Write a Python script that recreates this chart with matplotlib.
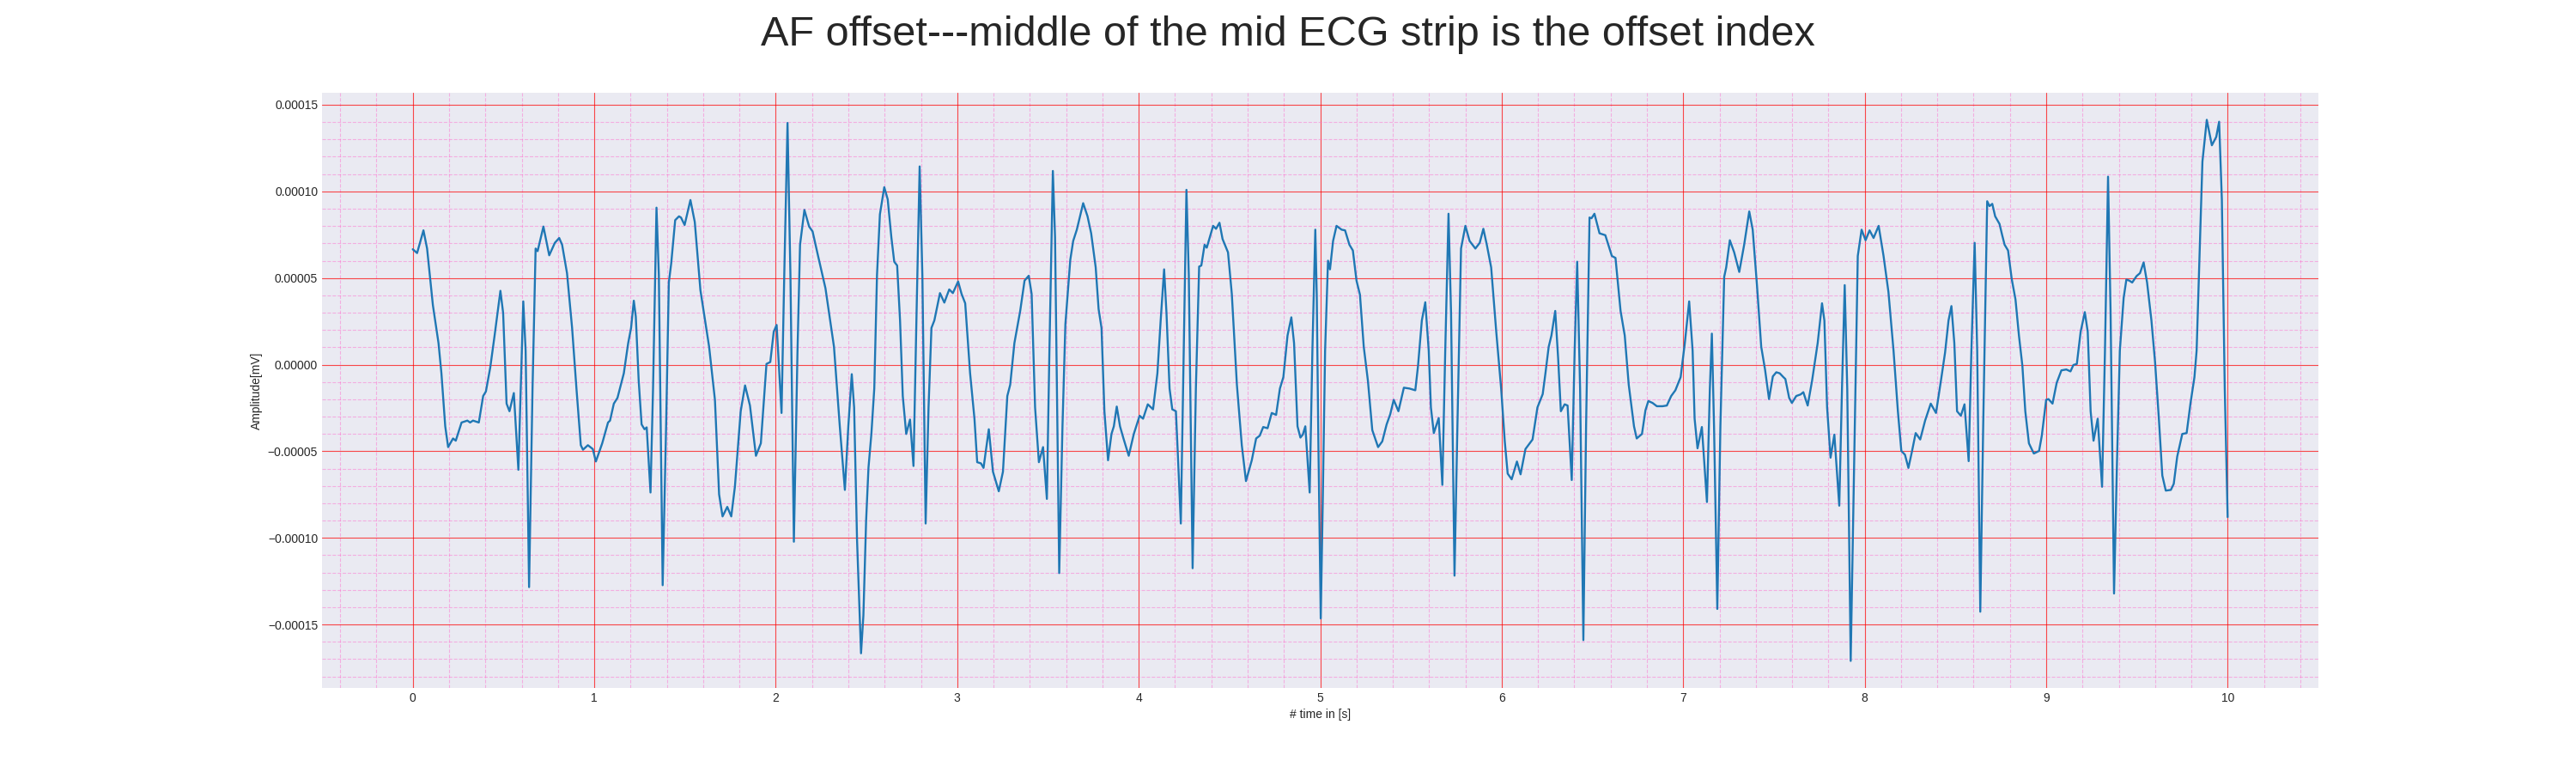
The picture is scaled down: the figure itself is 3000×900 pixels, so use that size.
import matplotlib
matplotlib.use("Agg")
import matplotlib.pyplot as plt
from matplotlib.ticker import MultipleLocator
import numpy as np

# ------------------------- DADOS -------------------------
# tempo (s) e amplitude (em unidades de 1e-5 mV)
time_s = [
    0.000, 0.024, 0.059, 0.079, 0.111, 0.142, 0.158, 0.179, 0.195, 0.222,
    0.237, 0.269, 0.301, 0.316, 0.332, 0.364, 0.388, 0.403, 0.427, 0.451,
    0.483, 0.498, 0.517, 0.533, 0.557, 0.582, 0.609, 0.622, 0.641, 0.660,
    0.677, 0.688, 0.720, 0.752, 0.783, 0.807, 0.823, 0.850, 0.878, 0.902,
    0.926, 0.938, 0.965, 0.992, 1.009, 1.044, 1.076, 1.087, 1.108, 1.128,
    1.163, 1.187, 1.203, 1.218, 1.229, 1.245, 1.261, 1.277, 1.289, 1.310,
    1.324, 1.343, 1.356, 1.377, 1.396, 1.411, 1.424, 1.446, 1.467, 1.478,
    1.498, 1.530, 1.554, 1.585, 1.633, 1.665, 1.688, 1.707, 1.733, 1.755,
    1.775, 1.807, 1.831, 1.858, 1.891, 1.918, 1.949, 1.970, 1.989, 2.005,
    2.032, 2.047, 2.065, 2.081, 2.100, 2.120, 2.134, 2.158, 2.184, 2.203,
    2.231, 2.274, 2.321, 2.353, 2.381, 2.400, 2.419, 2.432, 2.448, 2.470,
    2.483, 2.498, 2.511, 2.527, 2.543, 2.558, 2.574, 2.598, 2.617, 2.637,
    2.653, 2.669, 2.685, 2.700, 2.719, 2.740, 2.759, 2.776, 2.793, 2.808,
    2.826, 2.842, 2.858, 2.874, 2.905, 2.929, 2.956, 2.976, 3.005, 3.024,
    3.044, 3.071, 3.095, 3.110, 3.131, 3.145, 3.174, 3.197, 3.229, 3.252,
    3.276, 3.292, 3.315, 3.347, 3.371, 3.394, 3.410, 3.429, 3.450, 3.473,
    3.494, 3.508, 3.527, 3.539, 3.562, 3.580, 3.596, 3.623, 3.639, 3.659,
    3.694, 3.718, 3.738, 3.763, 3.779, 3.795, 3.811, 3.831, 3.850, 3.863,
    3.879, 3.897, 3.916, 3.945, 3.973, 4.005, 4.024, 4.050, 4.079, 4.103,
    4.121, 4.140, 4.153, 4.170, 4.185, 4.205, 4.218, 4.232, 4.248, 4.263,
    4.276, 4.297, 4.315, 4.333, 4.345, 4.363, 4.375, 4.410, 4.426, 4.445,
    4.462, 4.492, 4.513, 4.541, 4.568, 4.591, 4.623, 4.647, 4.667, 4.686,
    4.710, 4.733, 4.757, 4.778, 4.797, 4.820, 4.841, 4.856, 4.875, 4.891,
    4.904, 4.918, 4.942, 4.957, 4.973, 4.981, 4.990, 5.003, 5.014, 5.027,
    5.043, 5.054, 5.071, 5.090, 5.118, 5.137, 5.161, 5.180, 5.200, 5.219,
    5.240, 5.263, 5.287, 5.319, 5.342, 5.366, 5.386, 5.405, 5.431, 5.461,
    5.492, 5.524, 5.539, 5.560, 5.579, 5.598, 5.610, 5.626, 5.653, 5.673,
    5.689, 5.707, 5.721, 5.740, 5.756, 5.776, 5.800, 5.823, 5.855, 5.879,
    5.899, 5.918, 5.942, 5.970, 5.997, 6.017, 6.033, 6.055, 6.084, 6.104,
    6.131, 6.170, 6.197, 6.226, 6.241, 6.259, 6.274, 6.295, 6.311, 6.326,
    6.347, 6.363, 6.386, 6.402, 6.416, 6.432, 6.450, 6.465, 6.484, 6.495,
    6.511, 6.539, 6.571, 6.607, 6.627, 6.655, 6.678, 6.700, 6.729, 6.744,
    6.773, 6.792, 6.808, 6.831, 6.855, 6.886, 6.910, 6.934, 6.957, 6.986,
    7.009, 7.033, 7.052, 7.063, 7.079, 7.103, 7.131, 7.147, 7.158, 7.170,
    7.188, 7.205, 7.226, 7.237, 7.257, 7.281, 7.309, 7.336, 7.364, 7.383,
    7.407, 7.430, 7.451, 7.473, 7.494, 7.513, 7.532, 7.552, 7.563, 7.584,
    7.599, 7.623, 7.647, 7.662, 7.686, 7.710, 7.741, 7.765, 7.778, 7.793,
    7.812, 7.833, 7.860, 7.875, 7.890, 7.904, 7.923, 7.942, 7.962, 7.983,
    8.005, 8.027, 8.049, 8.077, 8.104, 8.131, 8.159, 8.183, 8.202, 8.222,
    8.241, 8.259, 8.281, 8.306, 8.333, 8.364, 8.393, 8.420, 8.443, 8.462,
    8.478, 8.494, 8.509, 8.530, 8.550, 8.573, 8.588, 8.606, 8.620, 8.637,
    8.653, 8.675, 8.688, 8.703, 8.719, 8.743, 8.757, 8.771, 8.790, 8.810,
    8.831, 8.850, 8.869, 8.885, 8.905, 8.932, 8.961, 8.976, 9.000, 9.013,
    9.035, 9.058, 9.084, 9.111, 9.134, 9.150, 9.169, 9.190, 9.213, 9.229,
    9.245, 9.261, 9.284, 9.308, 9.324, 9.341, 9.355, 9.374, 9.390, 9.406,
    9.427, 9.442, 9.458, 9.474, 9.498, 9.517, 9.537, 9.556, 9.580, 9.600,
    9.621, 9.640, 9.659, 9.687, 9.703, 9.722, 9.750, 9.774, 9.795, 9.817,
    9.829, 9.845, 9.861, 9.885, 9.913, 9.937, 9.953, 9.968, 9.984, 10.000,
]

amp_1e5 = [
    6.66, 6.44, 7.75, 6.70, 3.43, 1.24, -0.50, -3.56, -4.76, -4.26,
    -4.39, -3.34, -3.23, -3.34, -3.23, -3.34, -1.81, -1.55, -0.17, 1.68,
    4.26, 2.99, -2.25, -2.69, -1.64, -6.07, 3.65, 0.81, -12.84, -1.38,
    6.70, 6.55, 7.97, 6.31, 7.03, 7.31, 6.92, 5.28, 2.12, -1.38,
    -4.65, -4.91, -4.65, -4.87, -5.59, -4.54, -3.34, -3.23, -2.25, -1.92,
    -0.50, 1.24, 2.12, 3.69, 2.77, -0.94, -3.45, -3.73, -3.62, -7.38,
    -1.38, 9.06, 5.17, -12.73, -3.56, 4.74, 5.83, 8.34, 8.56, 8.49,
    8.06, 9.50, 8.23, 4.30, 1.03, -2.03, -7.49, -8.76, -8.21, -8.76,
    -7.05, -2.69, -1.20, -2.36, -5.26, -4.54, 0.04, 0.15, 1.90, 2.29,
    -2.79, 5.17, 13.95, 5.17, -10.22, 0.81, 6.92, 8.93, 7.97, 7.69,
    6.38, 4.41, 1.03, -3.56, -7.23, -3.56, -0.55, -2.47, -10.11, -16.66,
    -14.48, -9.02, -5.96, -4.00, -1.38, 5.17, 8.67, 10.24, 9.54, 7.36,
    5.94, 5.72, 2.55, -1.81, -4.00, -3.17, -5.85, 2.99, 11.44, 5.17,
    -9.17, -2.47, 2.12, 2.55, 4.13, 3.58, 4.34, 4.13, 4.80, 4.08,
    3.54, -0.50, -3.12, -5.63, -5.70, -5.96, -3.73, -6.18, -7.31, -6.18,
    -1.81, -1.16, 1.24, 3.10, 4.85, 5.13, 4.08, -2.47, -5.63, -4.76,
    -7.75, 0.81, 11.18, 7.36, -12.03, -3.56, 2.34, 6.05, 7.14, 7.79,
    9.32, 8.56, 7.58, 5.61, 3.21, 2.12, -2.69, -5.52, -4.00, -3.56,
    -2.42, -3.56, -4.26, -5.26, -4.00, -2.95, -3.12, -2.29, -2.58, -0.50,
    2.55, 5.50, 2.99, -1.38, -2.58, -2.69, -5.74, -9.17, 0.81, 10.09,
    5.17, -11.75, -1.38, 5.66, 5.72, 6.92, 6.75, 8.01, 7.84, 8.19,
    7.25, 6.48, 4.08, -1.16, -4.65, -6.72, -5.52, -4.26, -4.10, -3.60,
    -3.67, -2.79, -2.90, -1.38, -0.72, 1.68, 2.73, 1.24, -3.56, -4.21,
    -4.04, -3.56, -7.38, 0.81, 7.79, 4.00, -4.50, -14.65, -7.93, 0.81,
    6.00, 5.50, 7.14, 8.01, 7.79, 7.75, 6.92, 6.59, 4.85, 4.04,
    1.03, -0.94, -3.78, -4.76, -4.43, -3.45, -2.86, -2.03, -2.69, -1.33,
    -1.38, -1.48, -0.07, 2.55, 3.60, 0.81, -2.47, -3.95, -3.08, -6.94,
    0.81, 8.71, 2.99, -12.18, -3.56, 6.70, 8.01, 7.14, 6.70, 7.03,
    7.84, 6.92, 5.61, 1.90, -1.38, -4.43, -6.29, -6.62, -5.59, -6.33,
    -4.87, -4.32, -2.47, -1.70, -0.50, 1.03, 1.68, 3.10, 0.37, -2.69,
    -2.29, -2.36, -6.66, 0.81, 5.94, -1.38, -15.90, -3.56, 8.49, 8.45,
    8.71, 7.58, 7.47, 6.27, 6.16, 3.10, 1.68, -1.16, -3.56, -4.26,
    -4.00, -2.64, -2.10, -2.21, -2.40, -2.40, -2.36, -1.81, -1.48, -0.72,
    1.24, 3.65, 0.81, -3.12, -4.83, -3.60, -7.93, -1.38, 1.79, -3.56,
    -14.10, -3.56, 5.07, 5.61, 7.18, 6.48, 5.35, 6.92, 8.84, 7.79,
    4.52, 1.03, -0.28, -1.99, -0.68, -0.44, -0.50, -0.72, -0.83, -1.92,
    -2.21, -1.81, -1.72, -1.59, -2.36, -0.94, 1.24, 3.54, 2.55, -2.47,
    -5.37, -4.04, -8.14, -1.38, 4.59, -1.38, -17.10, -5.74, 6.27, 7.79,
    7.18, 7.75, 7.31, 8.01, 6.27, 4.19, 0.81, -2.69, -4.98, -5.20,
    -5.96, -5.09, -3.95, -4.32, -3.23, -2.25, -2.79, -0.94, 0.70, 2.55,
    3.38, 1.24, -2.69, -2.95, -2.29, -5.57, 0.81, 7.03, 0.81, -14.26,
    -3.56, 9.43, 9.15, 9.28, 8.56, 8.12, 7.50, 6.92, 6.59, 4.96,
    3.76, 1.68, -0.07, -2.69, -4.54, -5.13, -4.98, -4.10, -2.03, -1.99,
    -2.25, -1.05, -0.33, -0.28, -0.39, -0.02, 0.04, 1.90, 3.03, 1.90,
    -2.69, -4.39, -3.12, -7.05, 0.81, 10.85, 2.99, -13.21, -5.74, 0.81,
    3.86, 4.91, 4.85, 4.74, 5.11, 5.28, 5.90, 4.74, 2.55, 0.15,
    -3.12, -6.40, -7.27, -7.23, -6.88, -5.31, -4.00, -3.95, -2.25, -0.72,
    0.81, 6.27, 11.72, 14.13, 12.66, 13.14, 14.02, 9.54, -1.38, -8.80,
]

title_txt = "AF offset---middle of the mid ECG strip is the offset index"
x_label = "# time in [s]"
y_label = "Amplitude[mV]"
# ---------------------------------------------------------

amplitude = np.array(amp_1e5) * 1e-5  # converte para mV

plt.style.use("seaborn-v0_8-darkgrid")
plt.rcParams["font.family"] = ["Liberation Sans", "DejaVu Sans"]

fig, ax = plt.subplots(figsize=(30, 9), dpi=100)
ax.plot(time_s, amplitude, color="#1f77b4", linewidth=1.7)

# grade estilo papel de ECG
ax.xaxis.set_major_locator(MultipleLocator(1))
ax.xaxis.set_minor_locator(MultipleLocator(0.2))
ax.yaxis.set_major_locator(MultipleLocator(5e-5))
ax.yaxis.set_minor_locator(MultipleLocator(1e-5))
ax.grid(which="major", linestyle="-", linewidth=0.8, color="red", alpha=0.7)
ax.grid(which="minor", linestyle="--", linewidth=0.8, color="#ff66cc", alpha=0.45)

ax.set_xlabel(x_label)
ax.set_ylabel(y_label)
fig.suptitle(title_txt, fontsize=35)

fig.savefig("out.png", dpi=100)
